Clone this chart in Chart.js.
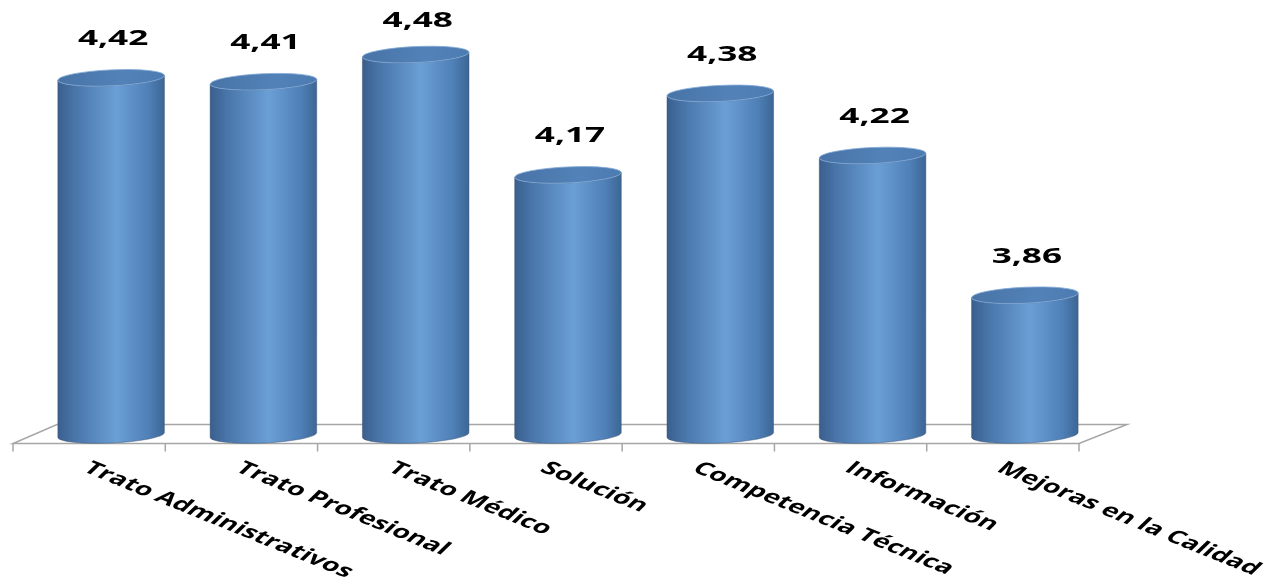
<!DOCTYPE html>
<html>
<head>
<meta charset="utf-8">
<script src="https://cdn.jsdelivr.net/npm/chart.js@4/dist/chart.umd.min.js"></script>
<style>
    body { margin: 0; background: #fff; }
    canvas { display: block; }
</style>
</head>
<body>
<canvas id="chart" width="1279" height="579"></canvas>
<script>
const categories = [
    'Trato Administrativos',
    'Trato Profesional',
    'Trato Médico',
    'Solución',
    'Competencia Técnica',
    'Información',
    'Mejoras en la Calidad'
];
const scores = [4.42, 4.41, 4.48, 4.17, 4.38, 4.22, 3.86];
const scoreLabels = ['4,42', '4,41', '4,48', '4,17', '4,38', '4,22', '3,86'];
const axisMin = 3.5;
const axisMax = 4.6;

// old office charts are stretched sideways, so text gets the same treatment
const stretchX = 1.6;
const depth = 22; // floor shift between front and back edge

function drawCylinder(ctx, bar) {
    const { x, y, base, width } = bar.getProps(['x', 'y', 'base', 'width'], true);
    const left = x - width / 2;
    const right = x + width / 2;
    const rx = width / 2;
    const ry = 8;
    const tilt = -0.045;

    const bodyGrad = ctx.createLinearGradient(left, 0, right, 0);
    bodyGrad.addColorStop(0, '#3a5f8d');
    bodyGrad.addColorStop(0.15, '#4874a8');
    bodyGrad.addColorStop(0.55, '#6a9fd6');
    bodyGrad.addColorStop(0.85, '#4f80b7');
    bodyGrad.addColorStop(1, '#3c6695');

    ctx.save();
    ctx.beginPath();
    ctx.moveTo(left, y - rx * Math.sin(tilt));
    ctx.lineTo(left, base - rx * Math.sin(tilt));
    ctx.ellipse(x, base, rx, ry, tilt, Math.PI, 0, true);
    ctx.lineTo(right, y + rx * Math.sin(tilt));
    ctx.ellipse(x, y, rx, ry, tilt, 0, Math.PI, false);
    ctx.closePath();
    ctx.fillStyle = bodyGrad;
    ctx.fill();
    ctx.strokeStyle = 'rgba(60, 80, 110, 0.45)';
    ctx.lineWidth = 1;
    ctx.stroke();

    // top face
    const topGrad = ctx.createLinearGradient(left, y - ry, right, y + ry);
    topGrad.addColorStop(0, '#4873a6');
    topGrad.addColorStop(0.6, '#5282b8');
    topGrad.addColorStop(1, '#4b7bb0');
    ctx.beginPath();
    ctx.ellipse(x, y, rx, ry, tilt, 0, Math.PI * 2);
    ctx.fillStyle = topGrad;
    ctx.fill();
    ctx.strokeStyle = 'rgba(130, 170, 215, 0.8)';
    ctx.stroke();
    ctx.restore();
}

const cylinderPlugin = {
    id: 'cylinders',
    beforeDatasetsDraw(chart) {
        const ctx = chart.ctx;
        const area = chart.chartArea;
        const xScale = chart.scales.x;
        const catWidth = xScale.getPixelForValue(1) - xScale.getPixelForValue(0);
        const frontY = area.bottom + 8.5;
        const backY = area.bottom - 10.5;
        const frontLeft = area.left - depth;
        const frontRight = area.right - depth;
        const backLeft = area.left + depth;
        const backRight = area.right + depth + 4;

        ctx.save();
        ctx.strokeStyle = '#a6a6a6';
        ctx.lineWidth = 1.5;
        ctx.beginPath();
        ctx.moveTo(frontLeft, frontY);
        ctx.lineTo(frontRight, frontY);
        ctx.lineTo(backRight, backY);
        ctx.lineTo(backLeft, backY);
        ctx.closePath();
        ctx.stroke();

        ctx.beginPath();
        for (let i = 0; i <= categories.length; i++) {
            const tx = frontLeft + i * catWidth;
            ctx.moveTo(tx, frontY);
            ctx.lineTo(tx, frontY + 8);
        }
        ctx.stroke();
        ctx.restore();
    },
    afterDatasetsDraw(chart) {
        const ctx = chart.ctx;
        const meta = chart.getDatasetMeta(0);
        const xScale = chart.scales.x;

        meta.data.forEach((bar, i) => {
            drawCylinder(ctx, bar);

            // value label, kept inside the canvas for the tallest bar
            ctx.save();
            ctx.translate(bar.x + 2, Math.max(bar.y - 39, 21));
            ctx.scale(stretchX, 1);
            ctx.font = 'bold 22px "Open Sans"';
            ctx.fillStyle = '#000';
            ctx.textAlign = 'center';
            ctx.textBaseline = 'middle';
            ctx.fillText(scoreLabels[i], 0, 0);
            ctx.restore();

            ctx.save();
            ctx.translate(xScale.getPixelForValue(i) - depth + 5, 459);
            ctx.scale(stretchX, 1);
            ctx.rotate(33 * Math.PI / 180);
            ctx.font = 'bold 18px "Open Sans"';
            ctx.fillStyle = '#000';
            ctx.textAlign = 'left';
            ctx.textBaseline = 'top';
            ctx.fillText(categories[i], 0, 0);
            ctx.restore();
        });
    }
};

new Chart(document.getElementById('chart').getContext('2d'), {
    type: 'bar',
    data: {
        labels: categories,
        datasets: [{
            data: scores,
            base: axisMin,
            backgroundColor: 'rgba(0, 0, 0, 0)',
            borderWidth: 0,
            categoryPercentage: 1,
            barPercentage: 0.7
        }]
    },
    options: {
        responsive: false,
        animation: false,
        layout: {
            padding: { top: 8, bottom: 144, left: 35, right: 178 }
        },
        plugins: {
            legend: { display: false },
            tooltip: { enabled: false }
        },
        scales: {
            x: { display: false },
            y: { display: false, min: axisMin, max: axisMax }
        }
    },
    plugins: [cylinderPlugin]
});
</script>
</body>
</html>
